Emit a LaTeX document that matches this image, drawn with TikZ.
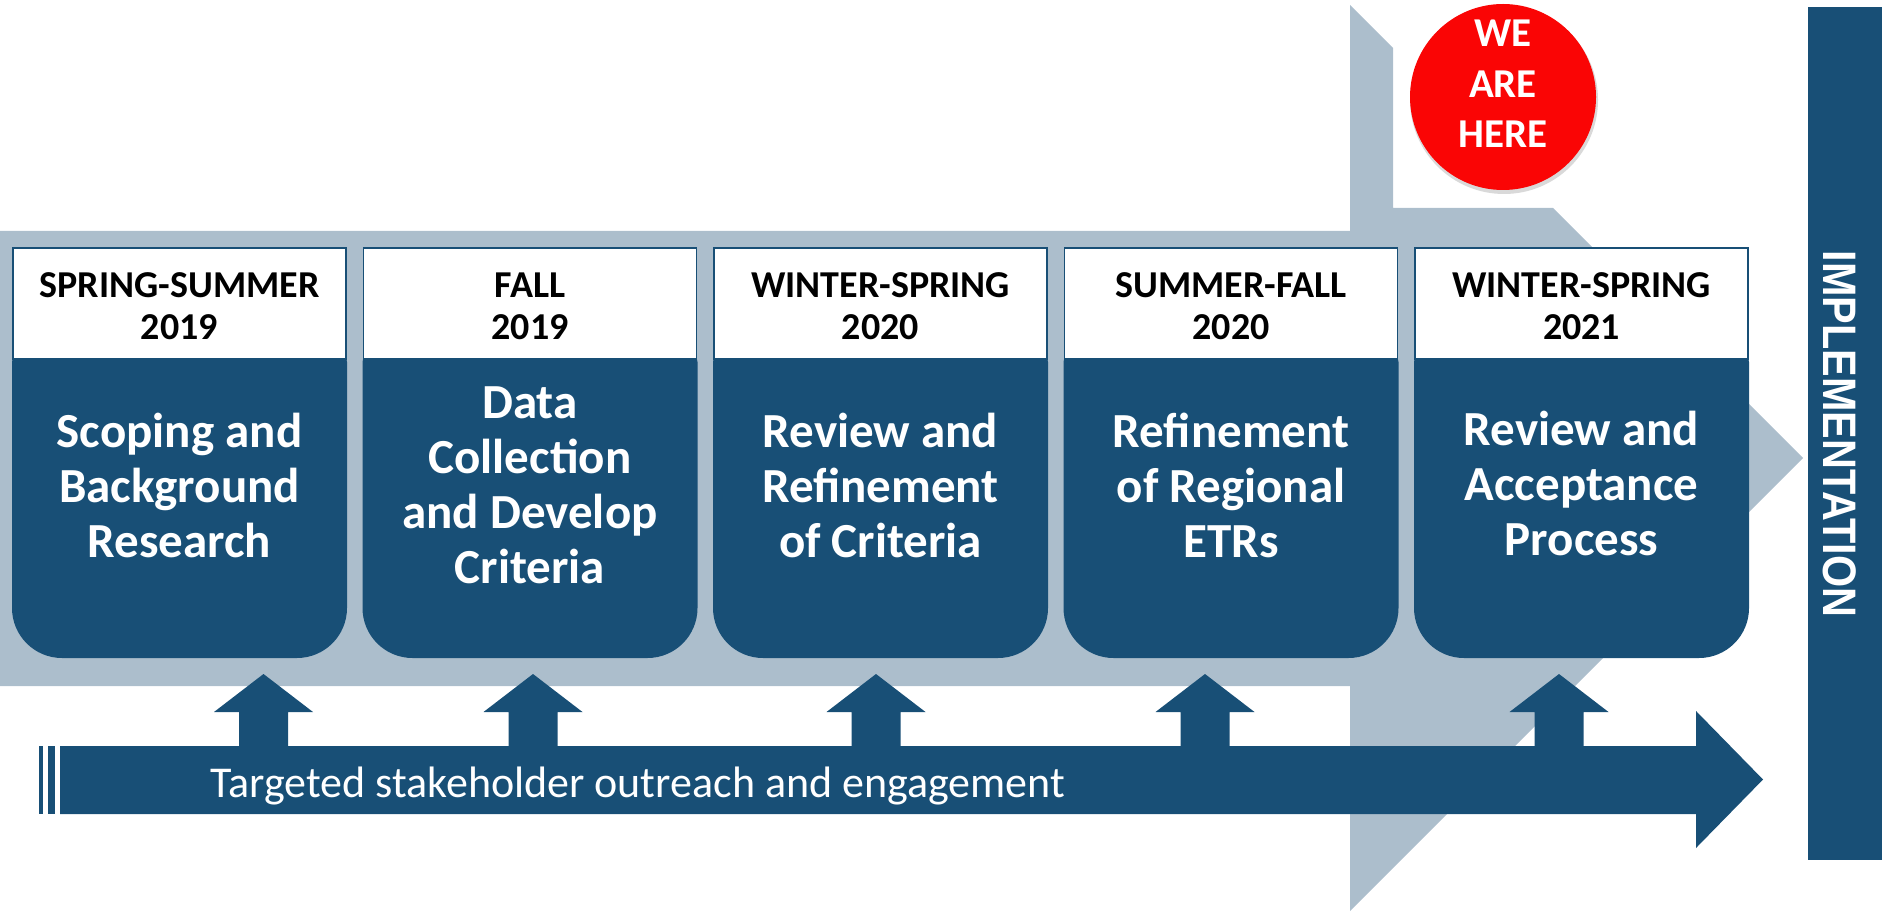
\documentclass[tikz,border=0pt]{standalone}
\usepackage{fontspec}
\setmainfont{Carlito}
\newfontfamily\libsans{Liberation Sans}
\definecolor{dblue}{RGB}{24,79,118}
\definecolor{lblue}{RGB}{172,190,204}
\definecolor{wred}{RGB}{250,5,5}
\tikzset{
  hdrbox/.style={draw=dblue, fill=white, line width=0.8pt, inner sep=0pt, minimum width=166.5pt, minimum height=55.5pt},
  hdrtext/.style={inner sep=0pt, align=center, text=black, font=\fontsize{19pt}{21pt}\selectfont\bfseries},
  bodytext/.style={inner sep=0pt, align=center, text=white, font=\fontsize{24.5pt}{27.5pt}\selectfont\bfseries},
  bodyfill/.style={fill=dblue},
  connfill/.style={fill=dblue},
}
\newcommand{\stagebox}[5]{%
  \pgfmathsetmacro\sbl{#2}\pgfmathsetmacro\sbr{#2+333}\pgfmathsetmacro\sbc{#2+166.5}%
  \fill[bodyfill] (\sbl-1,500) [rounded corners=3pt] -- (\sbl-1,356) -- (\sbr+1,356) -- (\sbr+1,500) [rounded corners=25pt] -- (\sbr+1,658) -- (\sbl-1,658) -- cycle;
  \node[hdrbox] (#1h) at (\sbc,303.5) {};
  \node[hdrtext, anchor=base] (#1t) at (\sbc,340) {#3};
  \node[bodytext, anchor=base] (#1b) at (\sbc,#5) {#4};
}
\newcommand{\uparr}[2]{%
  \coordinate (#1) at (#2,674);
  \fill[connfill] ([xshift=-12.25pt]#1 |- 0,747) -- ([xshift=-12.25pt]#1 |- 0,712) -- ([xshift=-24.75pt]#1 |- 0,712) -- (#1) -- ([xshift=24.75pt]#1 |- 0,712) -- ([xshift=12.25pt]#1 |- 0,712) -- ([xshift=12.25pt]#1 |- 0,747) -- cycle;
}
\begin{document}
\begin{tikzpicture}[x=0.5pt,y=-0.5pt]
\useasboundingbox (0,0) rectangle (1883,914);
% light background band + chevron
\fill[lblue] (0,231) -- (1350,231) -- (1350,5) -- (1393,48) -- (1393,208) -- (1553,208) -- (1803,458) -- (1350,911) -- (1350,686) -- (0,686) -- cycle;
% we are here
\fill[black, opacity=0.15] (1504,100) circle[radius=47pt];
\node[circle, fill=wred, minimum size=93pt, inner sep=0pt] (here) at (1503,97) {};
\node[inner sep=0pt, align=center, text=white, font=\fontsize{20.5pt}{25.25pt}\selectfont\bfseries, anchor=base] (heret) at (1503,148) {WE\\ARE\\HERE};
% stages
\stagebox{s1}{13}{SPRING-SUMMER\\2019}{Scoping and\\Background\\Research}{557}
\stagebox{s2}{363.5}{FALL\\2019}{Data\\Collection\\and Develop\\Criteria}{583}
\stagebox{s3}{714}{WINTER-SPRING\\2020}{Review and\\Refinement\\of Criteria}{557}
\stagebox{s4}{1064.5}{SUMMER-FALL\\2020}{Refinement\\of Regional\\ETRs}{557}
\stagebox{s5}{1415}{WINTER-SPRING\\2021}{Review and\\Acceptance\\Process}{555}
% outreach arrow
\fill[connfill] (39,746) rectangle (43,814);
\fill[connfill] (48,746) rectangle (55,814);
\fill[connfill] (60,746) -- (1696,746) -- (1696,711) -- (1763,779.5) -- (1696,848) -- (1696,814) -- (60,814) -- cycle;
\uparr{a1}{263.5}
\uparr{a2}{533}
\uparr{a3}{876}
\uparr{a4}{1205}
\uparr{a5}{1559}
\node[inner sep=0pt, anchor=base west, text=white, font=\fontsize{22pt}{26pt}\selectfont] (outreach) at (210,797) {Targeted stakeholder outreach and engagement};
% implementation bar
\node[fill=dblue, inner sep=0pt, minimum width=37pt, minimum height=426.5pt] (impl) at (1845,433.5) {};
\node[inner sep=0pt, rotate=-90, text=white, font=\libsans\fontsize{23.5pt}{26pt}\selectfont\bfseries] (implt) at (1840,434) {\scalebox{0.88}[1]{IMPLEMENTATION}};
\end{tikzpicture}
\end{document}
